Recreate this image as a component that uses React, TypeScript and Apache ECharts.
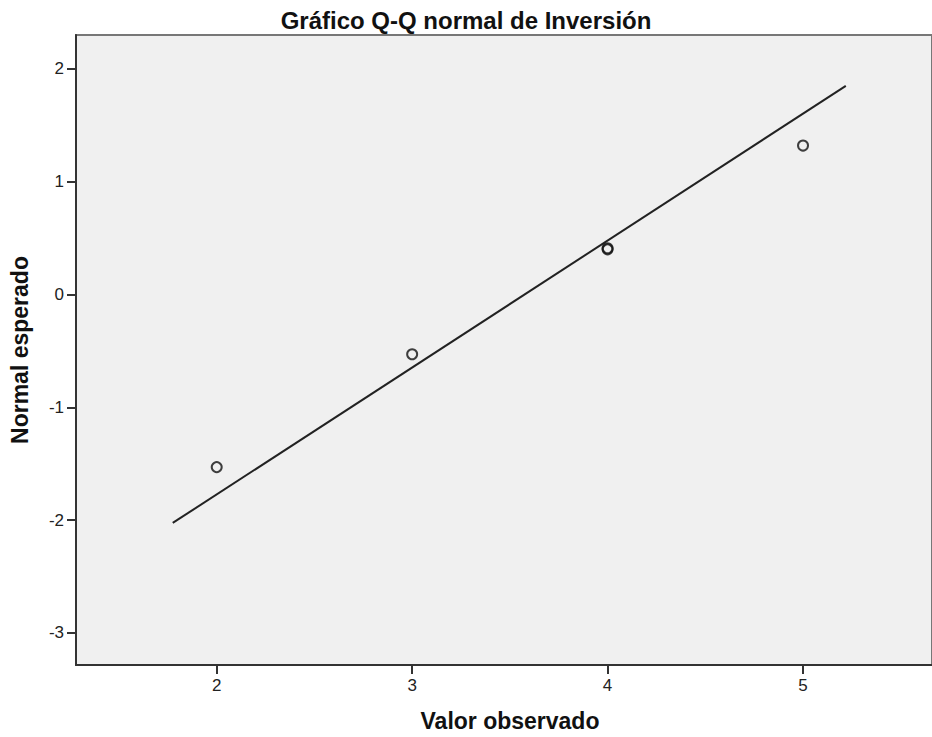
import React, { useEffect, useRef } from "react";
import * as echarts from "echarts";

const title = "Gráfico Q-Q normal de Inversión";
const xName = "Valor observado";
const yName = "Normal esperado";
const xTicks = [2, 3, 4, 5];
const yTicks = [-3, -2, -1, 0, 1, 2];
const observed = [2, 3, 4, 4, 5];
const expectedNormal = [-1.53, -0.53, 0.4, 0.41, 1.32];
const refLineX = [1.775, 5.219];
const refLineY = [-2.025, 1.849];

export default function App() {
  const ref = useRef<HTMLDivElement>(null);
  useEffect(() => {
    if (!ref.current) return;
    const chart = echarts.init(ref.current, undefined, { renderer: "svg" });
    const font = "'Liberation Sans', Arial, sans-serif";
    chart.setOption({
      animation: false,
      backgroundColor: "#ffffff",
      title: {
        text: title,
        left: "center",
        top: 3,
        textStyle: { fontFamily: font, fontSize: 24, fontWeight: "bold", color: "#111" },
      },
      grid: {
        left: 75,
        top: 35,
        right: 0,
        bottom: 72,
        show: true,
        backgroundColor: "#f0f0f0",
        borderColor: "#777",
        borderWidth: 2,
      },
      xAxis: {
        type: "value",
        min: 1.28,
        max: 5.66,
        name: xName,
        nameLocation: "middle",
        nameGap: 44,
        nameTextStyle: { fontFamily: font, fontSize: 23, fontWeight: "bold", color: "#111", padding: [0, 0, 0, 12] },
        axisLine: { show: true, onZero: false, lineStyle: { color: "#333", width: 2 } },
        axisTick: { show: true, length: 9, lineStyle: { color: "#333", width: 2 }, customValues: xTicks },
        axisLabel: {
          fontFamily: font,
          fontSize: 17,
          color: "#222",
          margin: 12,
          customValues: xTicks,
        },
        splitLine: { show: false },
      },
      yAxis: {
        type: "value",
        min: -3.284,
        max: 2.3,
        name: yName,
        nameLocation: "middle",
        nameGap: 45,
        nameRotate: 90,
        nameTextStyle: { fontFamily: font, fontSize: 23, fontWeight: "bold", color: "#111" },
        axisLine: { show: true, onZero: false, lineStyle: { color: "#333", width: 2 } },
        axisTick: { show: true, length: 9, lineStyle: { color: "#333", width: 2 }, customValues: yTicks },
        axisLabel: {
          fontFamily: font,
          fontSize: 17,
          color: "#222",
          margin: 12,
          customValues: yTicks,
        },
        splitLine: { show: false },
      },
      series: [
        {
          type: "line",
          data: refLineX.map((x, i) => [x, refLineY[i]]),
          showSymbol: false,
          symbol: "none",
          lineStyle: { color: "#222", width: 2 },
          z: 2,
        },
        {
          type: "scatter",
          data: observed.map((x, i) => [x, expectedNormal[i]]),
          symbol: "circle",
          symbolSize: 10,
          itemStyle: { color: "transparent", borderColor: "#111", borderWidth: 2 },
          z: 3,
        },
      ],
    });
    return () => chart.dispose();
  }, []);
  return (
    <div
      ref={ref}
      style={{ position: "fixed", left: 0, top: 0, width: 932, height: 737 }}
    />
  );
}
